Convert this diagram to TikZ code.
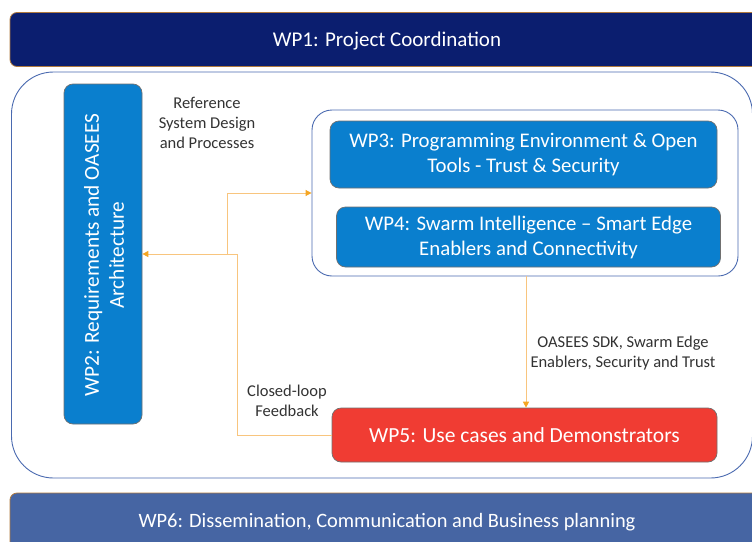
\documentclass[tikz,border=0pt]{standalone}
\usepackage{fontspec}
\setmainfont{Carlito}
\usetikzlibrary{arrows.meta}

\definecolor{navy}{HTML}{0B1E6F}
\definecolor{steel}{HTML}{4665A3}
\definecolor{wpblue}{HTML}{0A7FCE}
\definecolor{wpred}{HTML}{F03C33}
\definecolor{frameblue}{HTML}{4A6AB0}
\definecolor{edgegray}{HTML}{707070}
\definecolor{flowline}{HTML}{F8C57E}
\definecolor{flowtip}{HTML}{F5A623}
\definecolor{bandedge}{HTML}{B07A3E}
\definecolor{labeltext}{HTML}{333333}

\tikzset{
  band/.style={draw=bandedge, line width=0.8pt, rounded corners=7pt, text=white,
    font=\fontsize{21}{24}\selectfont, inner sep=0pt},
  wpbox/.style={draw=edgegray, line width=0.7pt, fill=wpblue, rounded corners=9pt,
    text=white, align=center, font=\fontsize{20.8}{25}\selectfont, inner sep=0pt},
  frame/.style={draw=frameblue, line width=0.9pt, inner sep=0pt},
  flow/.style={draw=flowline, line width=1pt,
    -{Triangle[length=6pt,width=6pt,fill=flowtip,color=flowtip]}},
  note/.style={text=labeltext, align=center, font=\fontsize{16.5}{20}\selectfont, inner sep=0pt}
}

\begin{document}
\begin{tikzpicture}[x=1pt,y=-1pt]
  \clip (0,0) rectangle (752,541);
  \fill[white] (0,0) rectangle (752,541);

  % top and bottom work-package bands
  \node[band, fill=navy, minimum width=754pt, minimum height=54pt] (wp1) at (387,39.5) {};
  \node[text=white, font=\fontsize{21}{24}\selectfont] (wp1t) at (387,41)
    {WP1: Project Coordination};
  \node[band, fill=steel, minimum width=754pt, minimum height=60pt] (wp6) at (387,523) {};
  \node[text=white, font=\fontsize{20.4}{24}\selectfont] (wp6t) at (387,522.5)
    {WP6: Dissemination, Communication and Business planning};

  % large frame holding WP2--WP5
  \node[frame, rounded corners=42pt, minimum width=741pt, minimum height=406pt] (outer) at (382,275) {};

  % WP2, vertical box
  \node[wpbox, minimum width=78pt, minimum height=340pt] (wp2) at (103,254) {};
  \node[text=white, rotate=90, align=center, font=\fontsize{21.3}{25}\selectfont] (wp2t) at (104,255)
    {WP2: Requirements and OASEES\\Architecture};

  % inner frame around WP3 and WP4
  \node[frame, rounded corners=20pt, minimum width=426pt, minimum height=166pt] (inner) at (525,193) {};
  \node[wpbox, minimum width=387pt, minimum height=67pt] (wp3) at (523.5,154.5)
    {WP3: Programming Environment \& Open\\Tools - Trust \& Security};
  \node[wpbox, minimum width=384pt, minimum height=60pt] (wp4) at (528.5,237)
    {WP4: Swarm Intelligence -- Smart Edge\\Enablers and Connectivity};

  % WP5
  \node[wpbox, fill=wpred, minimum width=385pt, minimum height=54pt, font=\fontsize{21.5}{25}\selectfont] (wp5) at (524.5,435)
    {WP5: Use cases and Demonstrators};

  % flow labels
  \node[note] (ref) at (207,123) {Reference\\System Design\\and Processes};
  \node[note] (fbl) at (287,401) {Closed-loop\\Feedback};
  \node[note] (sdk) at (623,353.5) {OASEES SDK, Swarm Edge\\Enablers, Security and Trust};

  % connectors
  \coordinate (fb) at (237,254);
  \coordinate (split) at (227,254);
  \coordinate (down) at (526,0);
  \draw[flow] (wp5.west) -| (fb) -- (wp2.east |- fb);
  \draw[flow] (split) |- (inner.west);
  \draw[flow] (inner.south -| down) -- (wp5.north -| down);
\end{tikzpicture}
\end{document}
